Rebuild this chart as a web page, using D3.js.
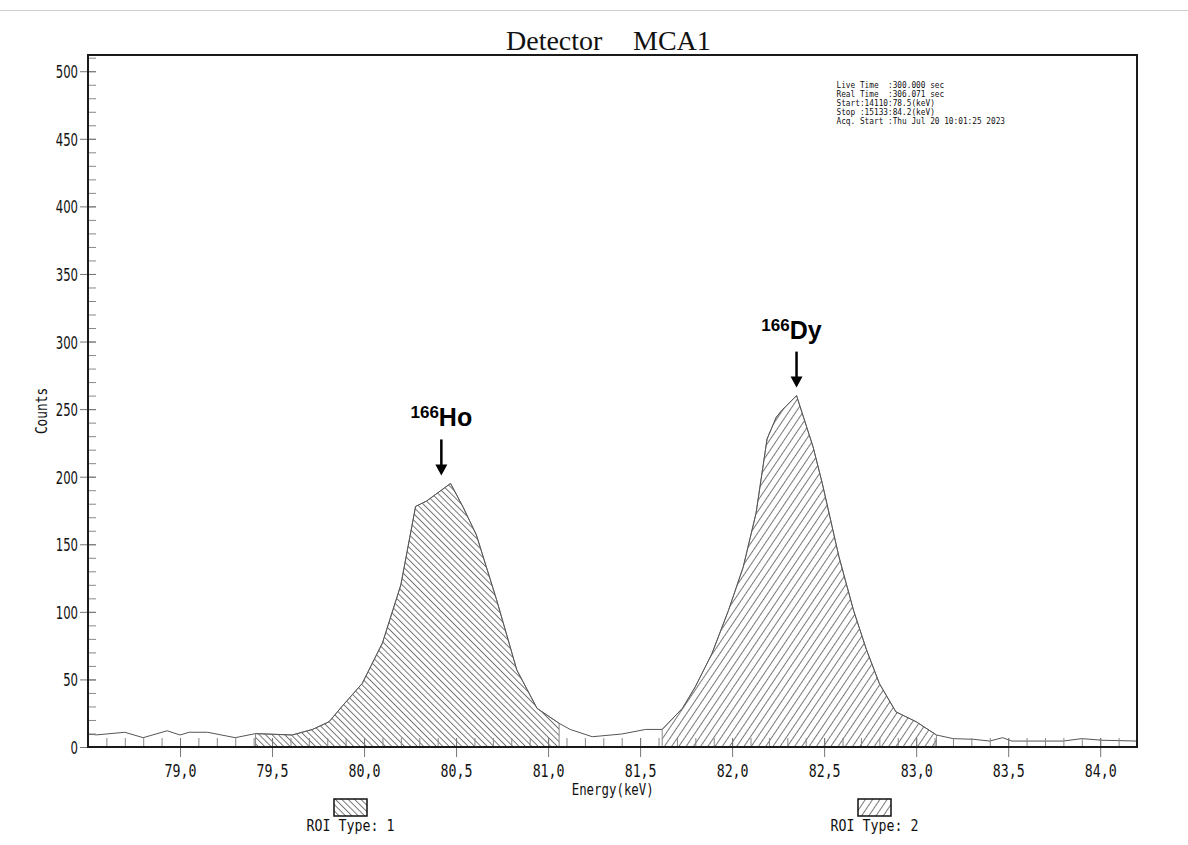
<!DOCTYPE html>
<html>
<head>
<meta charset="utf-8">
<script src="https://cdn.jsdelivr.net/npm/d3@7"></script>
<style>
  body { margin: 0; background: #fff; }
  svg { display: block; }
</style>
</head>
<body>
<div id="chart"></div>
<script>
// spectrum (keV, counts)
var energy = [78.50, 78.55, 78.70, 78.80, 78.93, 79.00, 79.05, 79.15, 79.30, 79.41,
  79.61, 79.72, 79.81, 79.88, 79.99, 80.10, 80.20, 80.28, 80.34, 80.39,
  80.47, 80.54, 80.61, 80.72, 80.83, 80.94, 81.06, 81.12, 81.24, 81.40,
  81.53, 81.62, 81.73, 81.80, 81.89, 81.98, 82.06, 82.13, 82.19, 82.24,
  82.27, 82.35, 82.44, 82.49, 82.58, 82.66, 82.73, 82.80, 82.89, 83.00,
  83.11, 83.20, 83.31, 83.40, 83.47, 83.52, 83.80, 83.90, 84.01, 84.20];
var counts = [9.4, 9, 10.9, 6.9, 12, 8.9, 10.9, 10.9, 6.9, 9.9,
  8.9, 13, 18.7, 30, 47, 77, 120, 178, 182, 187,
  195, 177, 157, 109, 57, 28.6, 17.5, 13, 7.6, 9.6,
  13, 13, 28.6, 44.6, 69, 101, 133, 173, 228, 244,
  249, 260, 222, 195, 141, 101, 72, 47, 26, 18.7,
  8.9, 6.2, 5.7, 4.4, 6.9, 4.4, 4.4, 6.2, 5, 4.4];

// regions of interest
var roiNames = ["ROI Type: 1", "ROI Type: 2"];
var roiStart = [79.41, 81.62];
var roiStop = [81.06, 83.11];

// axis ticks
var xTicks = [79.0, 79.5, 80.0, 80.5, 81.0, 81.5, 82.0, 82.5, 83.0, 83.5, 84.0];
var xTickLabels = ["79,0", "79,5", "80,0", "80,5", "81,0", "81,5", "82,0", "82,5", "83,0", "83,5", "84,0"];
var yTicks = [0, 50, 100, 150, 200, 250, 300, 350, 400, 450, 500];

// peak labels
var peakMass = ["166", "166"];
var peakElement = ["Ho", "Dy"];
var peakEnergy = [80.42, 82.35];
var peakCounts = [195, 260];

var infoLines = [
  "Live Time  :300.000 sec",
  "Real Time  :306.071 sec",
  "Start:14110:78.5(keV)",
  "Stop :15133:84.2(keV)",
  "Acq. Start :Thu Jul 20 10:01:25 2023"
];

var svgWidth = 1188;
var svgHeight = 845;
var margin = { top: 55, right: 51, bottom: 98, left: 88 };
var width = svgWidth - margin.left - margin.right;
var height = svgHeight - margin.top - margin.bottom;

var mono = "'DejaVu Sans Mono', monospace";
var cond = "'DejaVu Sans Condensed', 'DejaVu Sans', sans-serif";

var svg = d3.select("#chart").append("svg")
  .attr("width", svgWidth)
  .attr("height", svgHeight);

// hatch patterns
var defs = svg.append("defs");
function hatch(id, size, angle) {
  var p = defs.append("pattern")
    .attr("id", id)
    .attr("patternUnits", "userSpaceOnUse")
    .attr("width", size)
    .attr("height", size)
    .attr("patternTransform", "rotate(" + angle + ")");
  p.append("line")
    .attr("x1", 0.5).attr("y1", 0)
    .attr("x2", 0.5).attr("y2", size)
    .attr("stroke", "#6a6a6a")
    .attr("stroke-width", 0.9);
}
hatch("roi0", 4.5, -45);
hatch("roi1", 6, 34);

// thin grey line across the top
svg.append("line")
  .attr("x1", 0).attr("x2", svgWidth)
  .attr("y1", 10.5).attr("y2", 10.5)
  .attr("stroke", "#cfcfcf");

// squeezed text helper
function squeezed(parent, x, y, str, size, sx, family, anchor) {
  return parent.append("text")
    .attr("transform", "translate(" + x + "," + y + ") scale(" + sx + ",1)")
    .attr("text-anchor", anchor || "start")
    .style("font-family", family)
    .style("font-size", size + "px")
    .style("white-space", "pre")
    .attr("fill", "#111")
    .text(str);
}

// title
svg.append("text")
  .attr("x", 506).attr("y", 50)
  .style("font-family", "'Liberation Serif', 'Times New Roman', serif")
  .style("font-size", "28px")
  .attr("fill", "#111")
  .text("Detector");
svg.append("text")
  .attr("x", 633).attr("y", 50)
  .style("font-family", "'Liberation Serif', 'Times New Roman', serif")
  .style("font-size", "28px")
  .attr("fill", "#111")
  .text("MCA1");

var chartGroup = svg.append("g")
  .attr("transform", `translate(${margin.left}, ${margin.top})`);

var xScale = d3.scaleLinear().domain([78.5, 84.2]).range([0, width]);
var yScale = d3.scaleLinear().domain([0, 512]).range([height, 0]);

var data = energy.map((e, i) => ({ e: e, c: counts[i] }));

// ROI filled areas
var area = d3.area()
  .x(d => xScale(d.e))
  .y0(yScale(0))
  .y1(d => yScale(d.c));

roiStart.forEach(function (s, i) {
  var seg = data.filter(d => d.e >= s - 1e-9 && d.e <= roiStop[i] + 1e-9);
  chartGroup.append("path")
    .datum(seg)
    .attr("d", area)
    .attr("fill", "url(#roi" + i + ")")
    .attr("stroke", "#8a8a8a")
    .attr("stroke-width", 1);
});

// spectrum line
var line = d3.line()
  .x(d => xScale(d.e))
  .y(d => yScale(d.c));

chartGroup.append("path")
  .datum(data)
  .attr("d", line)
  .attr("fill", "none")
  .attr("stroke", "#555")
  .attr("stroke-width", 1);

// x axis: minor ticks inside, major ticks across
var xMinor = d3.range(786, 842).map(v => v / 10);
chartGroup.append("g")
  .attr("transform", `translate(0, ${height})`)
  .call(d3.axisBottom(xScale).tickValues(xMinor).tickSize(-9).tickFormat(""))
  .call(g => g.select(".domain").remove())
  .call(g => g.selectAll("line").attr("stroke", "#888"));

var xAxis = chartGroup.append("g")
  .attr("transform", `translate(0, ${height})`)
  .call(d3.axisBottom(xScale).tickValues(xTicks).tickSize(10)
    .tickFormat((d, i) => xTickLabels[i]));
xAxis.select(".domain").remove();
xAxis.selectAll("line").attr("y1", -9).attr("stroke", "#777");
xAxis.selectAll("text")
  .attr("y", 0).attr("dy", 0)
  .attr("transform", "translate(0,29.5) scale(0.78,1)")
  .style("font-family", mono)
  .style("font-size", "17px")
  .attr("fill", "#111");

// y axis: minor ticks inside, major ticks across
var yMinor = d3.range(0, 520, 10);
chartGroup.append("g")
  .call(d3.axisLeft(yScale).tickValues(yMinor).tickSize(-8).tickFormat(""))
  .call(g => g.select(".domain").remove())
  .call(g => g.selectAll("line").attr("stroke", "#888"));

var yAxis = chartGroup.append("g")
  .call(d3.axisLeft(yScale).tickValues(yTicks).tickSize(8));
yAxis.select(".domain").remove();
yAxis.selectAll("line").attr("x1", 8).attr("stroke", "#777");
yAxis.selectAll("text")
  .attr("x", 0).attr("dy", 0)
  .attr("transform", "translate(-10,6.5) scale(0.72,1)")
  .style("font-family", cond)
  .style("font-size", "18px")
  .attr("fill", "#111");

// frame
chartGroup.append("rect")
  .attr("width", width)
  .attr("height", height)
  .attr("fill", "none")
  .attr("stroke", "#1a1a1a")
  .attr("stroke-width", 2);

// axis titles
squeezed(svg, 612.7, 795, "Energy(keV)", 15.5, 0.8, mono, "middle");
svg.append("text")
  .attr("transform", "translate(47,411) rotate(-90) scale(0.8,1)")
  .attr("text-anchor", "middle")
  .style("font-family", mono)
  .style("font-size", "16px")
  .attr("fill", "#111")
  .text("Counts");

// acquisition info
infoLines.forEach(function (t, i) {
  squeezed(svg, 836.5, 88 + i * 9, t, 9.5, 0.82, mono, "start");
});

// peak labels and arrows
peakElement.forEach(function (el, i) {
  var px = margin.left + xScale(peakEnergy[i]);
  var tip = margin.top + yScale(peakCounts[i]) - 8;
  var g = svg.append("g");
  g.append("line")
    .attr("x1", px).attr("x2", px)
    .attr("y1", tip - 36).attr("y2", tip - 9)
    .attr("stroke", "#000")
    .attr("stroke-width", 2.5);
  g.append("path")
    .attr("d", `M${px - 6},${tip - 11}L${px + 6},${tip - 11}L${px},${tip}Z`)
    .attr("fill", "#000");
  var lab = g.append("text")
    .attr("x", px - (i === 0 ? 0 : 5))
    .attr("y", tip - 49)
    .attr("text-anchor", "middle")
    .style("font-family", "'Liberation Sans', Arial, sans-serif")
    .style("font-weight", "bold")
    .attr("fill", "#000");
  lab.append("tspan")
    .attr("dy", -8)
    .style("font-size", "17px")
    .text(peakMass[i]);
  lab.append("tspan")
    .attr("dy", 8)
    .style("font-size", "25px")
    .text(el);
});

// ROI legend
var legendX = [350.5, 874.5];
roiNames.forEach(function (name, i) {
  svg.append("rect")
    .attr("x", legendX[i] - 16.5).attr("y", 799)
    .attr("width", 33).attr("height", 17)
    .attr("fill", "url(#roi" + i + ")")
    .attr("stroke", "#111")
    .attr("stroke-width", 1.5);
  squeezed(svg, legendX[i], 831, name, 16, 0.83, mono, "middle");
});
</script>
</body>
</html>
